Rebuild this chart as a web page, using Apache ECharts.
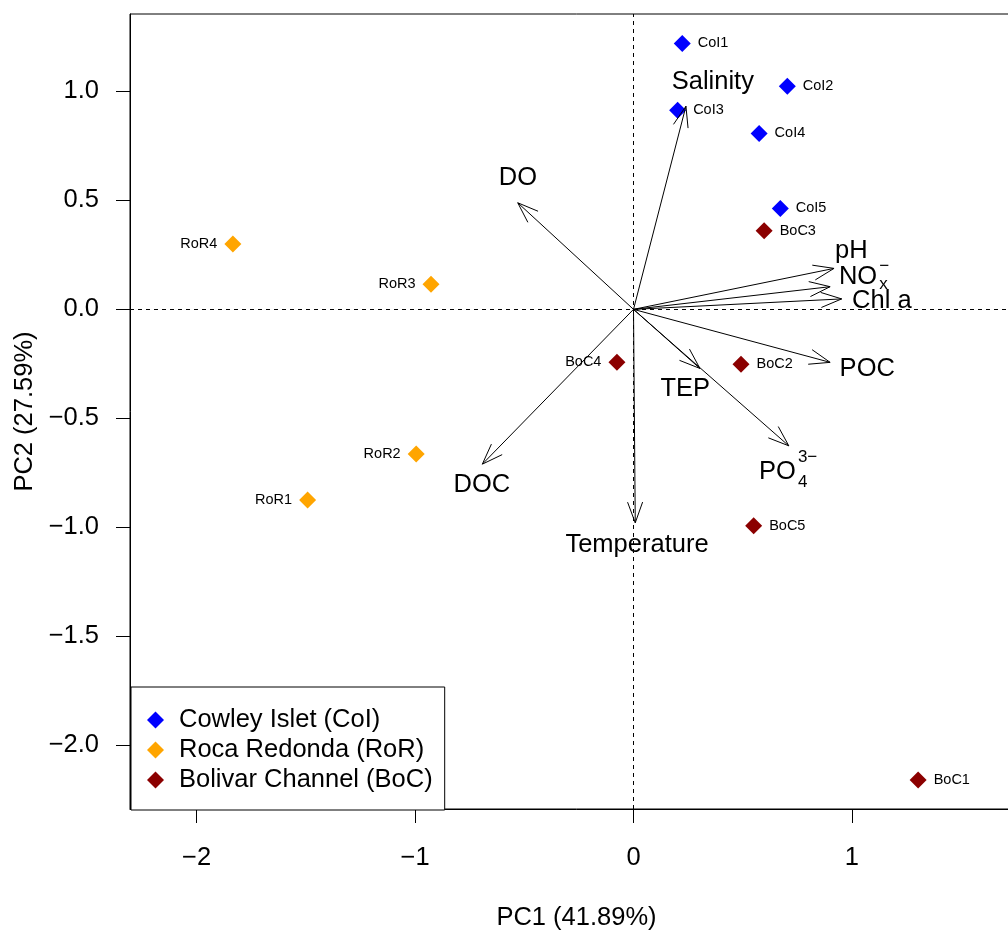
<!DOCTYPE html>
<html>
<head>
<meta charset="utf-8">
<title>PCA biplot</title>
<script src="https://cdn.jsdelivr.net/npm/echarts@6/dist/echarts.min.js"></script>
<style>
    html, body { margin: 0; padding: 0; overflow: hidden; background: #fff; }
    #main { width: 1040px; height: 932px; }
</style>
</head>
<body>
<div id="main"></div>
<script>
// site scores
var coName = ['CoI1', 'CoI2', 'CoI3', 'CoI4', 'CoI5'];
var coX = [0.223, 0.704, 0.202, 0.575, 0.672];
var coY = [1.220, 1.024, 0.914, 0.807, 0.463];

var rorName = ['RoR1', 'RoR2', 'RoR3', 'RoR4'];
var rorX = [-1.492, -0.995, -0.927, -1.834];
var rorY = [-0.875, -0.664, 0.115, 0.300];

var bocName = ['BoC1', 'BoC2', 'BoC3', 'BoC4', 'BoC5'];
var bocX = [1.303, 0.492, 0.598, -0.076, 0.550];
var bocY = [-2.159, -0.252, 0.361, -0.242, -0.993];

// variable loadings (arrow tips) and where their names sit
var varMain = ['Salinity', 'DO', 'DOC', 'pH', 'NO', 'Chl a', 'POC', 'TEP', 'PO', 'Temperature'];
var varSub = ['', '', '', '', 'x', '', '', '', '4', ''];
var varSup = ['', '', '', '', '\u2212', '', '', '', '3\u2212', ''];
var arrowX = [0.240, -0.530, -0.692, 0.918, 0.900, 0.953, 0.900, 0.304, 0.711, 0.008];
var arrowY = [0.932, 0.489, -0.710, 0.188, 0.104, 0.048, -0.243, -0.271, -0.626, -0.979];
var labelX = [0.363, -0.529, -0.694, 0.997, 1.028, 1.137, 1.070, 0.237, 0.659, 0.016];
var labelY = [1.043, 0.601, -0.807, 0.270, 0.150, 0.037, -0.272, -0.367, -0.745, -1.082];

var xTicks = [-2, -1, 0, 1];
var yTicks = [-2.0, -1.5, -1.0, -0.5, 0.0, 0.5, 1.0];

var FONT = '"Liberation Sans", Arial, Helvetica, sans-serif';
var BIG = 25.5;

var myChart = echarts.init(document.getElementById('main'), null, {renderer: 'canvas'});

// measure text width for placing sub/superscripts
var ctx = document.createElement('canvas').getContext('2d');
function textWidth(str, size) {
    ctx.font = size + 'px ' + FONT;
    return ctx.measureText(str).width;
}

function siteData(names, xs, ys) {
    var out = [];
    for (var i = 0; i < names.length; i++) {
        var left = names[i].indexOf('RoR') === 0 || names[i] === 'BoC4';
        out.push({
            value: [xs[i], ys[i], names[i]],
            label: {position: left ? 'left' : 'right'}
        });
    }
    return out;
}

function siteSeries(name, color, data) {
    return {
        name: name,
        type: 'scatter',
        symbol: 'diamond',
        symbolSize: 17,
        itemStyle: {color: color, opacity: 1},
        data: data,
        z: 3,
        label: {
            show: true,
            distance: 7,
            formatter: function (p) { return p.value[2]; },
            fontSize: 14.5,
            fontFamily: FONT,
            color: '#000'
        }
    };
}

var arrowData = [];
var labelData = [];
for (var i = 0; i < varMain.length; i++) {
    arrowData.push([arrowX[i], arrowY[i]]);
    labelData.push([labelX[i], labelY[i], i]);
}

// script offsets (px) for the two chemical formulas
var subDy = {4: 7.5, 8: 11};
var supDy = {4: -10, 8: -14};

var option = {
    animation: false,
    backgroundColor: '#fff',
    grid: {
        left: 130, top: 14, width: 893, height: 795,
        show: true, borderColor: '#000', borderWidth: 1,
        containLabel: false,
        outerBoundsMode: 'none'
    },
    legend: {
        orient: 'vertical',
        left: 131, top: 687,
        padding: [20, 12, 17, 16],
        itemGap: 4,
        itemWidth: 17, itemHeight: 17,
        icon: 'diamond',
        borderColor: '#000', borderWidth: 1, borderRadius: 0,
        backgroundColor: '#fff',
        selectedMode: false,
        textStyle: {fontSize: BIG, fontFamily: FONT, color: '#000', lineHeight: 26, padding: [0, 0, 0, 10]},
        data: ['Cowley Islet (CoI)', 'Roca Redonda (RoR)', 'Bolivar Channel (BoC)']
    },
    xAxis: {
        type: 'value',
        min: -2.305, max: 1.783,
        name: 'PC1 (41.89%)',
        nameLocation: 'middle',
        nameGap: 96,
        nameTextStyle: {fontSize: BIG, fontFamily: FONT, color: '#000'},
        splitLine: {show: false},
        axisLine: {show: true, onZero: false, lineStyle: {color: '#000', width: 1}},
        axisTick: {show: true, length: 14, customValues: xTicks, lineStyle: {color: '#000'}},
        axisLabel: {
            customValues: xTicks,
            margin: 36,
            fontSize: BIG, fontFamily: FONT, color: '#000',
            formatter: function (v) { return String(v).replace('-', '\u2212'); }
        }
    },
    yAxis: {
        type: 'value',
        min: -2.292, max: 1.355,
        name: 'PC2 (27.59%)',
        nameLocation: 'middle',
        nameGap: 88,
        nameTextStyle: {fontSize: BIG, fontFamily: FONT, color: '#000'},
        splitLine: {show: false},
        axisLine: {show: true, onZero: false, lineStyle: {color: '#000', width: 1}},
        axisTick: {show: true, length: 14, customValues: yTicks, lineStyle: {color: '#000'}},
        axisLabel: {
            customValues: yTicks,
            margin: 31,
            fontSize: BIG, fontFamily: FONT, color: '#000',
            formatter: function (v) { return v.toFixed(1).replace('-', '\u2212'); }
        }
    },
    series: [
        siteSeries('Cowley Islet (CoI)', '#0000FF', siteData(coName, coX, coY)),
        siteSeries('Roca Redonda (RoR)', '#FFA500', siteData(rorName, rorX, rorY)),
        siteSeries('Bolivar Channel (BoC)', '#8B0000', siteData(bocName, bocX, bocY)),
        {
            // dashed zero lines
            type: 'line',
            data: [],
            silent: true,
            markLine: {
                silent: true,
                symbol: 'none',
                label: {show: false},
                lineStyle: {color: '#000', width: 1, type: [4, 4]},
                data: [{xAxis: 0}, {yAxis: 0}]
            },
            z: 1
        },
        {
            // loading arrows
            type: 'custom',
            silent: true,
            z: 5,
            data: arrowData,
            renderItem: function (params, api) {
                var o = api.coord([0, 0]);
                var p = api.coord([api.value(0), api.value(1)]);
                var ang = Math.atan2(p[1] - o[1], p[0] - o[0]);
                var L = 22, a = 20 * Math.PI / 180;
                var h1 = [p[0] - L * Math.cos(ang - a), p[1] - L * Math.sin(ang - a)];
                var h2 = [p[0] - L * Math.cos(ang + a), p[1] - L * Math.sin(ang + a)];
                return {
                    type: 'group',
                    children: [
                        {type: 'line', shape: {x1: o[0], y1: o[1], x2: p[0], y2: p[1]},
                            style: {stroke: '#000', lineWidth: 1}},
                        {type: 'polyline', shape: {points: [h1, p, h2]},
                            style: {stroke: '#000', fill: null, lineWidth: 1}}
                    ]
                };
            }
        },
        {
            // variable names
            type: 'custom',
            silent: true,
            z: 6,
            data: labelData,
            renderItem: function (params, api) {
                var idx = api.value(2);
                var c = api.coord([api.value(0), api.value(1)]);
                var kids = [{
                    type: 'text', x: c[0], y: c[1],
                    style: {text: varMain[idx], fontSize: BIG, fontFamily: FONT, fill: '#000',
                        align: 'center', verticalAlign: 'middle'}
                }];
                var right = c[0] + textWidth(varMain[idx], BIG) / 2 + 2;
                if (varSub[idx]) {
                    kids.push({
                        type: 'text', x: right, y: c[1] + subDy[idx],
                        style: {text: varSub[idx], fontSize: 17, fontFamily: FONT, fill: '#000',
                            align: 'left', verticalAlign: 'middle'}
                    });
                }
                if (varSup[idx]) {
                    kids.push({
                        type: 'text', x: right, y: c[1] + supDy[idx],
                        style: {text: varSup[idx], fontSize: 17, fontFamily: FONT, fill: '#000',
                            align: 'left', verticalAlign: 'middle'}
                    });
                }
                return {type: 'group', children: kids};
            }
        }
    ]
};

myChart.setOption(option);
</script>
</body>
</html>
